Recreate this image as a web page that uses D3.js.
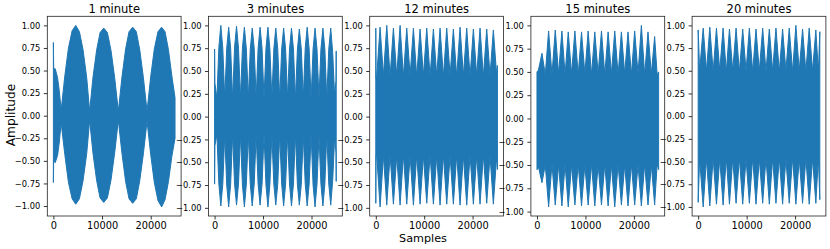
<!DOCTYPE html>
<html>
<head>
<meta charset="utf-8">
<script src="https://cdn.jsdelivr.net/npm/d3@7"></script>
<style>
  body { margin: 0; background: #fff; }
  text { font-family: "DejaVu Sans", sans-serif; fill: #000; }
</style>
</head>
<body>
<div id="chart"></div>
<script>
// panel titles and ticks
var titles = ["1 minute", "3 minutes", "12 minutes", "15 minutes", "20 minutes"];
var xTicks = [0, 10000, 20000];
var yTicks = [-1, -0.75, -0.5, -0.25, 0, 0.25, 0.5, 0.75, 1];

// envelope of each waveform (sample index, top, bottom)
var samples1 = [0, 60, 380, 860, 1200, 1600,
  2350, 3100, 3850, 4600, 5350, 6100, 6850, 7450,
  8150, 8900, 9600, 10350, 11100, 11850, 12600, 13350,
  14100, 14850, 15550, 16300, 17050, 17750, 18500, 19250,
  20000, 20750, 21500, 22250, 22950, 23650, 24350, 25000];
var upper1 = [0.81, 0.52, 0.52, 0.42, 0.28, 0.06,
  0.44, 0.75, 0.94, 1.00, 0.93, 0.73, 0.42, 0.05,
  0.43, 0.73, 0.92, 0.97, 0.92, 0.72, 0.42, 0.05,
  0.43, 0.74, 0.93, 0.98, 0.93, 0.73, 0.42, 0.05,
  0.43, 0.74, 0.93, 0.98, 0.93, 0.73, 0.44, 0.20];
var lower1 = [-0.74, -0.50, -0.52, -0.44, -0.30, -0.08,
  -0.43, -0.74, -0.92, -0.98, -0.92, -0.72, -0.42, -0.05,
  -0.42, -0.72, -0.91, -0.96, -0.91, -0.71, -0.41, -0.05,
  -0.42, -0.73, -0.92, -0.97, -0.92, -0.72, -0.42, -0.06,
  -0.43, -0.74, -0.94, -1.01, -0.93, -0.73, -0.45, -0.25];

var samples2 = [0, 60, 480,
  885, 1290, 1695, 2100,  2505, 2910, 3315, 3720,  4125, 4530, 4935, 5340,
  5745, 6150, 6555, 6960,  7365, 7770, 8175, 8580,  8985, 9390, 9795, 10200,
  10605, 11010, 11415, 11820,  12225, 12630, 13035, 13440,  13845, 14250, 14655, 15060,
  15465, 15870, 16275, 16680,  17085, 17490, 17895, 18300,  18705, 19110, 19515, 19920,
  20325, 20730, 21135, 21540,  21945, 22350, 22755, 23160,  23565, 23970, 24375, 24780,
  25060, 25100];
var upper2 = [0.74, 0.37, 0.20,
  0.76, 1.00, 0.75, 0.20,  0.75, 0.98, 0.75, 0.19,  0.76, 0.99, 0.75, 0.20,
  0.75, 0.98, 0.74, 0.19,  0.74, 0.97, 0.75, 0.20,  0.75, 0.98, 0.75, 0.19,
  0.75, 0.98, 0.74, 0.20,  0.74, 0.97, 0.74, 0.19,  0.74, 0.97, 0.74, 0.20,
  0.74, 0.97, 0.74, 0.19,  0.73, 0.96, 0.74, 0.20,  0.75, 0.98, 0.74, 0.19,
  0.74, 0.97, 0.74, 0.20,  0.74, 0.97, 0.74, 0.19,  0.74, 0.97, 0.70, 0.22,
  0.40, 0.72];
var lower2 = [-0.74, -0.32, -0.20,
  -0.74, -0.98, -0.74, -0.20,  -0.75, -0.99, -0.74, -0.19,  -0.74, -0.97, -0.74, -0.20,
  -0.75, -0.99, -0.74, -0.19,  -0.74, -0.98, -0.74, -0.20,  -0.74, -0.97, -0.74, -0.19,
  -0.75, -0.99, -0.74, -0.20,  -0.74, -0.97, -0.74, -0.19,  -0.74, -0.98, -0.74, -0.20,
  -0.74, -0.98, -0.74, -0.19,  -0.74, -0.97, -0.74, -0.20,  -0.74, -0.98, -0.74, -0.19,
  -0.75, -0.99, -0.74, -0.20,  -0.74, -0.98, -0.74, -0.19,  -0.74, -0.97, -0.70, -0.22,
  -0.40, -0.71];

var samples3 = [0, 60, 200,
  890, 1580, 2270, 2960, 3640, 4330, 5020, 5710, 6400, 7090, 7770, 8460,
  9150, 9840, 10530, 11220, 11900, 12590, 13280, 13970, 14660, 15350, 16030, 16720,
  17410, 18100, 18790, 19480, 20160, 20850, 21540, 22230, 22920, 23610, 24290, 24980,
  25130];
var upper3 = [0.97, 0.42, 0.45,
  0.98, 0.45, 1.00, 0.44, 0.97, 0.45, 1.00, 0.44, 0.97, 0.45, 0.97, 0.44,
  0.96, 0.45, 0.97, 0.44, 0.96, 0.45, 0.97, 0.44, 0.97, 0.45, 0.96, 0.44,
  0.98, 0.45, 0.97, 0.44, 0.96, 0.45, 0.97, 0.44, 0.96, 0.45, 0.95, 0.45,
  0.56];
var lower3 = [-0.95, -0.42, -0.43,
  -0.99, -0.43, -0.97, -0.42, -0.96, -0.43, -0.97, -0.42, -0.96, -0.43, -0.97, -0.42,
  -0.96, -0.43, -0.95, -0.42, -0.96, -0.43, -0.97, -0.42, -0.96, -0.43, -0.96, -0.42,
  -0.97, -0.43, -0.97, -0.42, -0.96, -0.43, -0.96, -0.42, -0.95, -0.43, -0.96, -0.43,
  -0.58];

var samples4 = [0, 300,
  1030, 1710, 2400, 3090, 3770, 4450, 5140, 5800, 6450, 7130, 7820, 8500,
  9190, 9880, 10560, 11250, 11930, 12620, 13310, 13990, 14680, 15360, 16050, 16740,
  17420, 18100, 18790, 19480, 20160, 20850, 21540, 22220, 22910, 23600, 24280, 24800,
  25100];
var upper4 = [0.50, 0.52,
  0.70, 0.47, 0.94, 0.47, 0.95, 0.48, 0.94, 0.47, 0.93, 0.48, 0.94, 0.47,
  0.93, 0.48, 0.94, 0.47, 0.93, 0.48, 0.94, 0.47, 0.93, 0.48, 0.94, 0.47,
  0.93, 0.48, 0.93, 0.47, 0.94, 0.48, 1.00, 0.47, 0.93, 0.48, 0.88, 0.47,
  0.50];
var lower4 = [-0.55, -0.52,
  -0.69, -0.50, -0.95, -0.49, -0.93, -0.50, -0.94, -0.49, -0.95, -0.50, -0.93, -0.49,
  -0.94, -0.50, -0.93, -0.49, -0.94, -0.50, -0.93, -0.49, -0.94, -0.50, -0.95, -0.49,
  -0.93, -0.50, -0.94, -0.49, -0.93, -0.50, -0.94, -0.49, -0.93, -0.50, -0.93, -0.49,
  -0.55];

var samples5 = [0, 300,
  1030, 1710, 2400, 3090, 3770, 4450, 5140, 5800, 6450, 7130, 7820, 8500,
  9190, 9880, 10560, 11250, 11930, 12620, 13310, 13990, 14680, 15360, 16050, 16740,
  17420, 18100, 18790, 19480, 20160, 20850, 21540, 22220, 22910, 23600, 24280, 24800,
  25100];
var upper5 = [0.95, 0.50,
  0.97, 0.50, 0.98, 0.49, 0.97, 0.50, 0.97, 0.49, 0.96, 0.50, 0.97, 0.49,
  0.96, 0.50, 0.97, 0.49, 0.96, 0.50, 0.97, 0.49, 0.96, 0.50, 0.97, 0.49,
  0.96, 0.50, 0.97, 0.49, 1.00, 0.50, 0.96, 0.49, 0.97, 0.50, 0.95, 0.49,
  0.93];
var lower5 = [-0.95, -0.47,
  -1.00, -0.47, -0.99, -0.46, -0.97, -0.47, -0.98, -0.46, -0.97, -0.47, -0.96, -0.46,
  -0.97, -0.47, -0.96, -0.46, -0.97, -0.47, -0.96, -0.46, -0.97, -0.47, -0.96, -0.46,
  -0.97, -0.47, -0.96, -0.46, -0.97, -0.47, -0.96, -0.46, -0.97, -0.47, -0.96, -0.46,
  -0.92];

var panels = [
  {x: samples1, hi: upper1, lo: lower1},
  {x: samples2, hi: upper2, lo: lower2},
  {x: samples3, hi: upper3, lo: lower3},
  {x: samples4, hi: upper4, lo: lower4},
  {x: samples5, hi: upper5, lo: lower5}
];

// layout
var svgWidth = 830, svgHeight = 249;
var plotTop = 16.3, plotBottom = 216;
var firstLeft = 47.3, panelStep = 161.2, panelW = 133.8;
var color = "#1f77b4";

var svg = d3.select("#chart").append("svg")
  .attr("width", svgWidth)
  .attr("height", svgHeight);

panels.forEach(function(p, i) {
  var rows = p.x.map(function(s, j) { return {s: s, hi: p.hi[j], lo: p.lo[j]}; });

  // matplotlib style 5% margins
  var xMax = d3.max(p.x);
  var xPad = xMax * 0.05;
  var yMin = d3.min(p.lo), yMax = d3.max(p.hi);
  var yPad = (yMax - yMin) * 0.05;

  var xScale = d3.scaleLinear().domain([-xPad, xMax + xPad]).range([0, panelW]);
  var yScale = d3.scaleLinear().domain([yMin - yPad, yMax + yPad]).range([plotBottom - plotTop, 0]);

  var g = svg.append("g")
    .attr("transform", `translate(${firstLeft + i * panelStep}, ${plotTop})`);

  var area = d3.area()
    .x(d => xScale(d.s))
    .y0(d => yScale(d.lo))
    .y1(d => yScale(d.hi));

  g.append("path")
    .datum(rows)
    .attr("d", area)
    .attr("fill", color)
    .attr("stroke", color)
    .attr("stroke-width", 1)
    .attr("stroke-linejoin", "miter");

  // axes
  var leftAxis = d3.axisLeft(yScale)
    .tickValues(yTicks)
    .tickFormat(d3.format(".2f"))
    .tickSize(3.5)
    .tickPadding(3.5);
  var bottomAxis = d3.axisBottom(xScale)
    .tickValues(xTicks)
    .tickFormat(d3.format("d"))
    .tickSize(3.5)
    .tickPadding(3);

  var ya = g.append("g").call(leftAxis);
  ya.select(".domain").remove();
  ya.selectAll("text").attr("font-size", "8.3px").attr("font-family", "DejaVu Sans, sans-serif");
  ya.selectAll("line").attr("stroke", "#000").attr("stroke-width", 0.8);

  var xa = g.append("g")
    .attr("transform", `translate(0, ${plotBottom - plotTop})`)
    .call(bottomAxis);
  xa.select(".domain").remove();
  xa.selectAll("text").attr("font-size", "9.8px").attr("font-family", "DejaVu Sans, sans-serif");
  xa.selectAll("line").attr("stroke", "#000").attr("stroke-width", 0.8);

  // frame
  g.append("rect")
    .attr("width", panelW)
    .attr("height", plotBottom - plotTop)
    .attr("fill", "none")
    .attr("stroke", "#222")
    .attr("stroke-width", 0.8);

  // title
  g.append("text")
    .attr("x", panelW / 2)
    .attr("y", 13.3 - plotTop)
    .attr("text-anchor", "middle")
    .attr("font-size", "11.5px")
    .text(titles[i]);
});

// axis labels
svg.append("text")
  .attr("transform", "translate(14.5, 115) rotate(-90)")
  .attr("text-anchor", "middle")
  .attr("font-size", "12.2px")
  .text("Amplitude");

svg.append("text")
  .attr("x", 423)
  .attr("y", 242)
  .attr("text-anchor", "middle")
  .attr("font-size", "11.2px")
  .text("Samples");
</script>
</body>
</html>
